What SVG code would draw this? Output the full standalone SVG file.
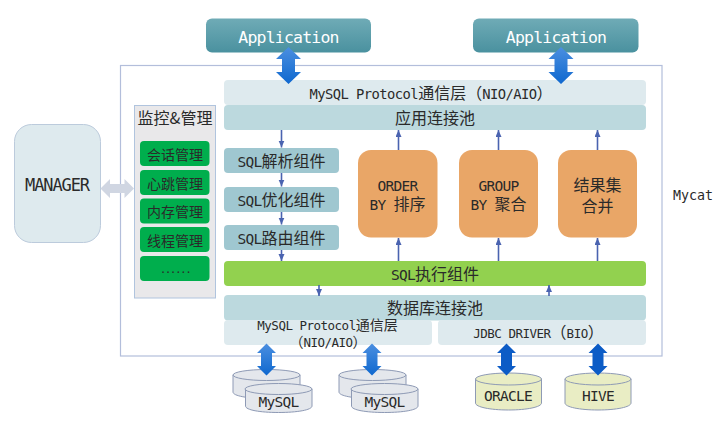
<svg xmlns="http://www.w3.org/2000/svg" width="724" height="423" viewBox="0 0 724 423">
<style>
text{font-family:"DejaVu Sans Mono","Noto Sans CJK SC",monospace;fill:#2a2a2a;text-anchor:middle;font-size:14.5px;letter-spacing:-.7px}
.z16{font-size:16px;letter-spacing:0;font-family:"Noto Sans CJK SC",sans-serif}
.z14{font-size:14px;letter-spacing:0;font-family:"Noto Sans CJK SC",sans-serif}
.small{font-size:12.5px;letter-spacing:-.5px}
.top{font-size:13.800px;letter-spacing:-.55px}
.app{fill:#fff;font-size:16.5px;letter-spacing:-.8px}
.cyl{fill:#e4e7ec;stroke:#8e9ab5;stroke-width:1}
.cy2{fill:#e9edc4;stroke:#8e9ab5;stroke-width:1}
.g{fill:#00ae4d}
.lay1{fill:#deeaee}.lay2{fill:#bcd9de}.sql{fill:#9fc7d0}.ora{fill:#e9a667}
.thin{stroke:#4a63b0;stroke-width:1.6;fill:none;marker-end:url(#tip)}
</style>
<defs>
<linearGradient id="gApp" x1="0" y1="0" x2="0" y2="1"><stop offset="0" stop-color="#6fabb6"/><stop offset="1" stop-color="#4a919f"/></linearGradient>
<linearGradient id="gBlue" x1="0" y1="0" x2="0" y2="1"><stop offset="0" stop-color="#4b8fe0"/><stop offset="1" stop-color="#0f68cf"/></linearGradient>
<marker id="tip" markerUnits="userSpaceOnUse" markerWidth="8" markerHeight="7" refX="7" refY="3" orient="auto"><path d="M0 0L7 3L0 6Z" fill="#4a63b0"/></marker>
<path id="dbl" d="M0 -18.500L12.500 -6.500L6.500 -6.500L6.500 6.500L12.500 6.500L0 18.500L-12.500 6.500L-6.500 6.500L-6.500 -6.500L-12.500 -6.500Z"/>
<path id="dbl2" d="M0 -16L9.500 -6.500L5.500 -6.500L5.500 6.500L9.500 6.500L0 16L-9.500 6.500L-5.500 6.500L-5.500 -6.500L-9.500 -6.500Z"/>
</defs>

<rect x="120.500" y="65.500" width="541.500" height="290.500" fill="#fff" stroke="#b3bedb" stroke-width="1.200"/>

<g id="mycat"><text x="693" y="200" style="font-size:13.300px;letter-spacing:0">Mycat</text></g>

<g id="app1"><rect x="206" y="18.500" width="165" height="34" rx="6" fill="url(#gApp)"/><text class="app" x="288.500" y="43">Application</text></g>
<g id="app2"><rect x="473" y="18.500" width="165.500" height="34" rx="6" fill="url(#gApp)"/><text class="app" x="556" y="43">Application</text></g>

<g id="manager"><rect x="14.500" y="124.500" width="86" height="118" rx="17" fill="#deeaee" stroke="#bccbdc"/><text x="57" y="191" style="font-size:17px;letter-spacing:-1.100px">MANAGER</text></g>

<g id="monitor"><rect x="134.500" y="105.500" width="81" height="192.500" fill="#e9e8ea" stroke="#b0c4de"/><text class="z16" x="175" y="124">监控&amp;管理</text></g>
<g id="m1"><rect class="g" x="140" y="141" width="69.500" height="25" rx="4"/><text class="z14" x="175" y="159.500">会话管理</text></g>
<g id="m2"><rect class="g" x="140" y="170" width="69.500" height="25" rx="4"/><text class="z14" x="175" y="188.500">心跳管理</text></g>
<g id="m3"><rect class="g" x="140" y="198.500" width="69.500" height="25" rx="4"/><text class="z14" x="175" y="217">内存管理</text></g>
<g id="m4"><rect class="g" x="140" y="227" width="69.500" height="25" rx="4"/><text class="z14" x="175" y="245.500">线程管理</text></g>
<g id="m5"><rect class="g" x="140" y="256" width="69.500" height="25" rx="4"/><text x="175" y="273" style="font-size:11px;letter-spacing:-1.500px">......</text></g>

<g id="protocol-top"><rect class="lay1" x="224" y="80" width="422" height="25" rx="4"/><text class="top" x="431" y="99">MySQL Protocol<tspan class="z16">通信层（</tspan>NIO/AIO<tspan class="z16">）</tspan></text></g>
<g id="app-pool"><rect class="lay2" x="224" y="105" width="422" height="25" rx="4"/><text class="z16" x="435" y="124">应用连接池</text></g>

<g id="sql1"><rect class="sql" x="224" y="148" width="115" height="25" rx="4"/><text x="281.500" y="167">SQL<tspan class="z16">解析组件</tspan></text></g>
<g id="sql2"><rect class="sql" x="224" y="187" width="115" height="25" rx="4"/><text x="281.500" y="206">SQL<tspan class="z16">优化组件</tspan></text></g>
<g id="sql3"><rect class="sql" x="224" y="225" width="115" height="25" rx="4"/><text x="281.500" y="244">SQL<tspan class="z16">路由组件</tspan></text></g>

<g id="order"><rect class="ora" x="358" y="150" width="79.500" height="87.500" rx="13"/><text x="397.500" y="190.500">ORDER</text><text x="397.500" y="210">BY <tspan class="z16">排序</tspan></text></g>
<g id="group"><rect class="ora" x="459" y="150" width="79" height="87.500" rx="13"/><text x="498.500" y="190.500">GROUP</text><text x="498.500" y="210">BY <tspan class="z16">聚合</tspan></text></g>
<g id="merge"><rect class="ora" x="558" y="150" width="79" height="87.500" rx="13"/><text class="z16" x="597.500" y="191">结果集</text><text class="z16" x="597.500" y="212">合并</text></g>

<g id="sql-exec"><rect x="224" y="261" width="422" height="25" rx="4" fill="#92d14f"/><text x="435" y="280">SQL<tspan class="z16">执行组件</tspan></text></g>
<g id="db-pool"><rect class="lay2" x="224" y="295" width="422" height="25.500" rx="4"/><text class="z16" x="435" y="314">数据库连接池</text></g>
<g id="protocol-bottom"><rect class="lay1" x="224" y="320" width="208" height="25" rx="4"/><text class="small" x="327.500" y="330">MySQL Protocol<tspan class="z14">通信层</tspan></text><text class="small" x="328" y="347"><tspan class="z14">（</tspan>NIO/AIO<tspan class="z14">）</tspan></text></g>
<g id="jdbc"><rect class="lay1" x="438" y="320" width="208" height="25" rx="4"/><text class="small" x="538.500" y="338">JDBC DRIVER<tspan class="z16">（</tspan>BIO<tspan class="z16">）</tspan></text></g>

<g id="mysql1">
<path class="cyl" d="M233 375V392C233 396 248 398.500 266.500 398.500S300 396 300 392V375Z"/><ellipse class="cyl" cx="266.500" cy="375" rx="33.500" ry="5.500"/>
<path class="cyl" d="M245.500 389V406C245.500 410 260 412.500 278.500 412.500S312 410 312 406V389Z"/><ellipse class="cyl" cx="278.500" cy="389" rx="33.500" ry="5.500"/>
<text x="278.500" y="407">MySQL</text></g>
<g id="mysql2">
<path class="cyl" d="M339 375V392C339 396 354 398.500 372.500 398.500S406 396 406 392V375Z"/><ellipse class="cyl" cx="372.500" cy="375" rx="33.500" ry="5.500"/>
<path class="cyl" d="M351.500 389V406C351.500 410 366 412.500 384.500 412.500S418 410 418 406V389Z"/><ellipse class="cyl" cx="384.500" cy="389" rx="33.500" ry="5.500"/>
<text x="384.500" y="407">MySQL</text></g>
<g id="oracle"><path class="cy2" d="M475.500 379V403C475.500 407 490 410 508.500 410S541.500 407 541.500 403V379Z"/><ellipse class="cy2" cx="508.500" cy="379" rx="33" ry="6"/><text x="508" y="401">ORACLE</text></g>
<g id="hive"><path class="cy2" d="M565 379V403C565 407 579.500 410 598 410S631 407 631 403V379Z"/><ellipse class="cy2" cx="598" cy="379" rx="33" ry="6"/><text x="598" y="401">HIVE</text></g>

<g id="connectors">
<path d="M100.500 188.500L110 179V184H124.500V179L134 188.500L124.500 198V193H110V198Z" fill="#d0d6e2"/>
<use href="#dbl" x="288.500" y="65.500" fill="url(#gBlue)"/>
<use href="#dbl" x="561" y="65.500" fill="url(#gBlue)"/>
<use href="#dbl2" x="266.500" y="359.500" fill="url(#gBlue)"/>
<use href="#dbl2" x="372" y="359.500" fill="url(#gBlue)"/>
<use href="#dbl2" x="506.500" y="359.500" fill="#0c5cc6"/>
<use href="#dbl2" x="598" y="359.500" fill="#0c5cc6"/>
<path class="thin" d="M281.500 130V147.500"/>
<path class="thin" d="M281.500 173V186.500"/>
<path class="thin" d="M281.500 212V224.500"/>
<path class="thin" d="M281.500 250V261"/>
<path class="thin" d="M398.500 150V130"/>
<path class="thin" d="M498.500 150V130"/>
<path class="thin" d="M597.500 150V130"/>
<path class="thin" d="M398.500 261V238"/>
<path class="thin" d="M498.500 261V238"/>
<path class="thin" d="M597.500 261V238"/>
<path class="thin" d="M319 285V296"/>
<path class="thin" d="M549 296V285"/>
</g>
</svg>
